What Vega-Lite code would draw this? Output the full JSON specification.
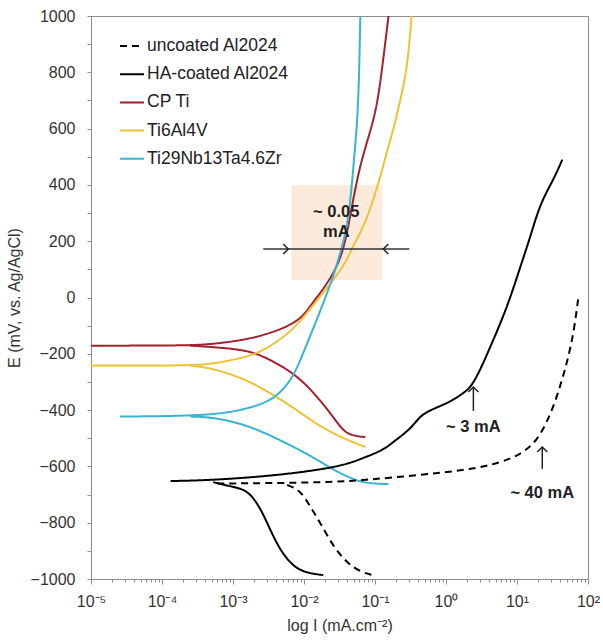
{
  "$schema": "https://vega.github.io/schema/vega-lite/v6.json",
  "width": 497,
  "height": 563,
  "autosize": {"type": "none"},
  "padding": {"left": 91, "top": 16, "right": 15, "bottom": 63},
  "background": "white",
  "config": {
    "view": {"stroke": "#8c8c8c", "strokeWidth": 1},
    "font": "Liberation Sans",
    "axis": {"domainColor": "#8c8c8c", "tickColor": "#8c8c8c", "grid": false, "labelColor": "#333333", "titleColor": "#333333", "labelFont": "Liberation Sans", "titleFont": "Liberation Sans", "labelFontSize": 16, "titleFontSize": 16, "titleFontWeight": "normal"}
  },
  "datasets": {
    "curves": [
      {"s": "CP Ti", "b": "cp_a", "o": 1, "i": 1.0e-5, "E": -171},
      {"s": "CP Ti", "b": "cp_a", "o": 2, "i": 2.5e-4, "E": -171},
      {"s": "CP Ti", "b": "cp_a", "o": 3, "i": 5.26e-4, "E": -165},
      {"s": "CP Ti", "b": "cp_a", "o": 4, "i": 1.6e-3, "E": -150},
      {"s": "CP Ti", "b": "cp_a", "o": 5, "i": 4.6e-3, "E": -116},
      {"s": "CP Ti", "b": "cp_a", "o": 6, "i": 8.4e-3, "E": -81},
      {"s": "CP Ti", "b": "cp_a", "o": 7, "i": 1.08e-2, "E": -50},
      {"s": "CP Ti", "b": "cp_a", "o": 8, "i": 1.39e-2, "E": -12},
      {"s": "CP Ti", "b": "cp_a", "o": 9, "i": 2.16e-2, "E": 51},
      {"s": "CP Ti", "b": "cp_a", "o": 10, "i": 3.26e-2, "E": 133},
      {"s": "CP Ti", "b": "cp_a", "o": 11, "i": 4.06e-2, "E": 229},
      {"s": "CP Ti", "b": "cp_a", "o": 12, "i": 4.9e-2, "E": 346},
      {"s": "CP Ti", "b": "cp_a", "o": 13, "i": 6.1e-2, "E": 464},
      {"s": "CP Ti", "b": "cp_a", "o": 14, "i": 7.85e-2, "E": 559},
      {"s": "CP Ti", "b": "cp_a", "o": 15, "i": 0.105, "E": 666},
      {"s": "CP Ti", "b": "cp_a", "o": 16, "i": 0.127, "E": 819},
      {"s": "CP Ti", "b": "cp_a", "o": 17, "i": 0.155, "E": 1000},
      {"s": "CP Ti", "b": "cp_c", "o": 1, "i": 2.5e-4, "E": -171},
      {"s": "CP Ti", "b": "cp_c", "o": 2, "i": 5.26e-4, "E": -176},
      {"s": "CP Ti", "b": "cp_c", "o": 3, "i": 1.6e-3, "E": -187},
      {"s": "CP Ti", "b": "cp_c", "o": 4, "i": 3.06e-3, "E": -215},
      {"s": "CP Ti", "b": "cp_c", "o": 5, "i": 8.0e-3, "E": -275},
      {"s": "CP Ti", "b": "cp_c", "o": 6, "i": 1.7e-2, "E": -364},
      {"s": "CP Ti", "b": "cp_c", "o": 7, "i": 2.96e-2, "E": -446},
      {"s": "CP Ti", "b": "cp_c", "o": 8, "i": 4.05e-2, "E": -489},
      {"s": "CP Ti", "b": "cp_c", "o": 9, "i": 7.3e-2, "E": -496},
      {"s": "Ti6Al4V", "b": "ti64_a", "o": 1, "i": 1.0e-5, "E": -242},
      {"s": "Ti6Al4V", "b": "ti64_a", "o": 2, "i": 2.5e-4, "E": -242},
      {"s": "Ti6Al4V", "b": "ti64_a", "o": 3, "i": 5.26e-4, "E": -236},
      {"s": "Ti6Al4V", "b": "ti64_a", "o": 4, "i": 1.6e-3, "E": -211},
      {"s": "Ti6Al4V", "b": "ti64_a", "o": 5, "i": 2.68e-3, "E": -187},
      {"s": "Ti6Al4V", "b": "ti64_a", "o": 6, "i": 4.6e-3, "E": -151},
      {"s": "Ti6Al4V", "b": "ti64_a", "o": 7, "i": 8.0e-3, "E": -98},
      {"s": "Ti6Al4V", "b": "ti64_a", "o": 8, "i": 1.11e-2, "E": -53},
      {"s": "Ti6Al4V", "b": "ti64_a", "o": 9, "i": 1.54e-2, "E": -9},
      {"s": "Ti6Al4V", "b": "ti64_a", "o": 10, "i": 2.6e-2, "E": 62},
      {"s": "Ti6Al4V", "b": "ti64_a", "o": 11, "i": 4.05e-2, "E": 133},
      {"s": "Ti6Al4V", "b": "ti64_a", "o": 12, "i": 4.6e-2, "E": 169},
      {"s": "Ti6Al4V", "b": "ti64_a", "o": 13, "i": 6.2e-2, "E": 229},
      {"s": "Ti6Al4V", "b": "ti64_a", "o": 14, "i": 7.8e-2, "E": 286},
      {"s": "Ti6Al4V", "b": "ti64_a", "o": 15, "i": 9.4e-2, "E": 346},
      {"s": "Ti6Al4V", "b": "ti64_a", "o": 16, "i": 0.119, "E": 428},
      {"s": "Ti6Al4V", "b": "ti64_a", "o": 17, "i": 0.149, "E": 524},
      {"s": "Ti6Al4V", "b": "ti64_a", "o": 18, "i": 0.176, "E": 584},
      {"s": "Ti6Al4V", "b": "ti64_a", "o": 19, "i": 0.228, "E": 701},
      {"s": "Ti6Al4V", "b": "ti64_a", "o": 20, "i": 0.287, "E": 819},
      {"s": "Ti6Al4V", "b": "ti64_a", "o": 21, "i": 0.327, "E": 1000},
      {"s": "Ti6Al4V", "b": "ti64_c", "o": 1, "i": 2.5e-4, "E": -242},
      {"s": "Ti6Al4V", "b": "ti64_c", "o": 2, "i": 5.26e-4, "E": -251},
      {"s": "Ti6Al4V", "b": "ti64_c", "o": 3, "i": 1.6e-3, "E": -293},
      {"s": "Ti6Al4V", "b": "ti64_c", "o": 4, "i": 3.7e-3, "E": -346},
      {"s": "Ti6Al4V", "b": "ti64_c", "o": 5, "i": 8.0e-3, "E": -400},
      {"s": "Ti6Al4V", "b": "ti64_c", "o": 6, "i": 1.7e-2, "E": -460},
      {"s": "Ti6Al4V", "b": "ti64_c", "o": 7, "i": 4.05e-2, "E": -506},
      {"s": "Ti6Al4V", "b": "ti64_c", "o": 8, "i": 7.3e-2, "E": -531},
      {"s": "Ti29Nb13Ta4.6Zr", "b": "tnz_a", "o": 1, "i": 2.57e-5, "E": -423},
      {"s": "Ti29Nb13Ta4.6Zr", "b": "tnz_a", "o": 2, "i": 5.26e-4, "E": -420},
      {"s": "Ti29Nb13Ta4.6Zr", "b": "tnz_a", "o": 3, "i": 1.6e-3, "E": -395},
      {"s": "Ti29Nb13Ta4.6Zr", "b": "tnz_a", "o": 4, "i": 3.06e-3, "E": -371},
      {"s": "Ti29Nb13Ta4.6Zr", "b": "tnz_a", "o": 5, "i": 4.6e-3, "E": -340},
      {"s": "Ti29Nb13Ta4.6Zr", "b": "tnz_a", "o": 6, "i": 7.06e-3, "E": -282},
      {"s": "Ti29Nb13Ta4.6Zr", "b": "tnz_a", "o": 7, "i": 9.77e-3, "E": -197},
      {"s": "Ti29Nb13Ta4.6Zr", "b": "tnz_a", "o": 8, "i": 1.35e-2, "E": -110},
      {"s": "Ti29Nb13Ta4.6Zr", "b": "tnz_a", "o": 9, "i": 1.87e-2, "E": -20},
      {"s": "Ti29Nb13Ta4.6Zr", "b": "tnz_a", "o": 10, "i": 2.59e-2, "E": 75},
      {"s": "Ti29Nb13Ta4.6Zr", "b": "tnz_a", "o": 11, "i": 3.35e-2, "E": 170},
      {"s": "Ti29Nb13Ta4.6Zr", "b": "tnz_a", "o": 12, "i": 3.94e-2, "E": 240},
      {"s": "Ti29Nb13Ta4.6Zr", "b": "tnz_a", "o": 13, "i": 4.49e-2, "E": 340},
      {"s": "Ti29Nb13Ta4.6Zr", "b": "tnz_a", "o": 14, "i": 4.94e-2, "E": 460},
      {"s": "Ti29Nb13Ta4.6Zr", "b": "tnz_a", "o": 15, "i": 5.45e-2, "E": 580},
      {"s": "Ti29Nb13Ta4.6Zr", "b": "tnz_a", "o": 16, "i": 5.82e-2, "E": 700},
      {"s": "Ti29Nb13Ta4.6Zr", "b": "tnz_a", "o": 17, "i": 6.05e-2, "E": 850},
      {"s": "Ti29Nb13Ta4.6Zr", "b": "tnz_a", "o": 18, "i": 6.21e-2, "E": 1000},
      {"s": "Ti29Nb13Ta4.6Zr", "b": "tnz_c", "o": 1, "i": 2.5e-4, "E": -423},
      {"s": "Ti29Nb13Ta4.6Zr", "b": "tnz_c", "o": 2, "i": 5.26e-4, "E": -425},
      {"s": "Ti29Nb13Ta4.6Zr", "b": "tnz_c", "o": 3, "i": 1.6e-3, "E": -453},
      {"s": "Ti29Nb13Ta4.6Zr", "b": "tnz_c", "o": 4, "i": 4.6e-3, "E": -506},
      {"s": "Ti29Nb13Ta4.6Zr", "b": "tnz_c", "o": 5, "i": 1.36e-2, "E": -567},
      {"s": "Ti29Nb13Ta4.6Zr", "b": "tnz_c", "o": 6, "i": 2.6e-2, "E": -613},
      {"s": "Ti29Nb13Ta4.6Zr", "b": "tnz_c", "o": 7, "i": 5.6e-2, "E": -653},
      {"s": "Ti29Nb13Ta4.6Zr", "b": "tnz_c", "o": 8, "i": 9.0e-2, "E": -661},
      {"s": "Ti29Nb13Ta4.6Zr", "b": "tnz_c", "o": 9, "i": 0.155, "E": -663},
      {"s": "HA-coated Al2024", "b": "ha_a", "o": 1, "i": 1.32e-4, "E": -652},
      {"s": "HA-coated Al2024", "b": "ha_a", "o": 2, "i": 5.28e-4, "E": -649},
      {"s": "HA-coated Al2024", "b": "ha_a", "o": 3, "i": 4.65e-3, "E": -631},
      {"s": "HA-coated Al2024", "b": "ha_a", "o": 4, "i": 2.35e-2, "E": -606},
      {"s": "HA-coated Al2024", "b": "ha_a", "o": 5, "i": 4.49e-2, "E": -588},
      {"s": "HA-coated Al2024", "b": "ha_a", "o": 6, "i": 6.84e-2, "E": -570},
      {"s": "HA-coated Al2024", "b": "ha_a", "o": 7, "i": 0.131, "E": -542},
      {"s": "HA-coated Al2024", "b": "ha_a", "o": 8, "i": 0.181, "E": -513},
      {"s": "HA-coated Al2024", "b": "ha_a", "o": 9, "i": 0.314, "E": -468},
      {"s": "HA-coated Al2024", "b": "ha_a", "o": 10, "i": 0.435, "E": -420},
      {"s": "HA-coated Al2024", "b": "ha_a", "o": 11, "i": 0.601, "E": -400},
      {"s": "HA-coated Al2024", "b": "ha_a", "o": 12, "i": 1.15, "E": -371},
      {"s": "HA-coated Al2024", "b": "ha_a", "o": 13, "i": 1.75, "E": -340},
      {"s": "HA-coated Al2024", "b": "ha_a", "o": 14, "i": 2.43, "E": -312},
      {"s": "HA-coated Al2024", "b": "ha_a", "o": 15, "i": 4.21, "E": -176},
      {"s": "HA-coated Al2024", "b": "ha_a", "o": 16, "i": 7.3, "E": -34},
      {"s": "HA-coated Al2024", "b": "ha_a", "o": 17, "i": 11.1, "E": 108},
      {"s": "HA-coated Al2024", "b": "ha_a", "o": 18, "i": 15.4, "E": 215},
      {"s": "HA-coated Al2024", "b": "ha_a", "o": 19, "i": 21.3, "E": 336},
      {"s": "HA-coated Al2024", "b": "ha_a", "o": 20, "i": 32.5, "E": 417},
      {"s": "HA-coated Al2024", "b": "ha_a", "o": 21, "i": 43.5, "E": 490},
      {"s": "HA-coated Al2024", "b": "ha_c", "o": 1, "i": 5.26e-4, "E": -656},
      {"s": "HA-coated Al2024", "b": "ha_c", "o": 2, "i": 1.0e-3, "E": -673},
      {"s": "HA-coated Al2024", "b": "ha_c", "o": 3, "i": 1.6e-3, "E": -684},
      {"s": "HA-coated Al2024", "b": "ha_c", "o": 4, "i": 2.4e-3, "E": -744},
      {"s": "HA-coated Al2024", "b": "ha_c", "o": 5, "i": 3.35e-3, "E": -826},
      {"s": "HA-coated Al2024", "b": "ha_c", "o": 6, "i": 4.6e-3, "E": -897},
      {"s": "HA-coated Al2024", "b": "ha_c", "o": 7, "i": 7.06e-3, "E": -957},
      {"s": "HA-coated Al2024", "b": "ha_c", "o": 8, "i": 1.11e-2, "E": -979},
      {"s": "HA-coated Al2024", "b": "ha_c", "o": 9, "i": 1.87e-2, "E": -986},
      {"s": "uncoated Al2024", "b": "un_a", "o": 1, "i": 6.0e-4, "E": -661},
      {"s": "uncoated Al2024", "b": "un_a", "o": 2, "i": 4.6e-3, "E": -659},
      {"s": "uncoated Al2024", "b": "un_a", "o": 3, "i": 2.36e-2, "E": -656},
      {"s": "uncoated Al2024", "b": "un_a", "o": 4, "i": 7.8e-2, "E": -648},
      {"s": "uncoated Al2024", "b": "un_a", "o": 5, "i": 0.393, "E": -631},
      {"s": "uncoated Al2024", "b": "un_a", "o": 6, "i": 2.0, "E": -613},
      {"s": "uncoated Al2024", "b": "un_a", "o": 7, "i": 5.8, "E": -588},
      {"s": "uncoated Al2024", "b": "un_a", "o": 8, "i": 12.2, "E": -553},
      {"s": "uncoated Al2024", "b": "un_a", "o": 9, "i": 19.3, "E": -506},
      {"s": "uncoated Al2024", "b": "un_a", "o": 10, "i": 26.7, "E": -440},
      {"s": "uncoated Al2024", "b": "un_a", "o": 11, "i": 34.6, "E": -370},
      {"s": "uncoated Al2024", "b": "un_a", "o": 12, "i": 42.1, "E": -300},
      {"s": "uncoated Al2024", "b": "un_a", "o": 13, "i": 49.5, "E": -240},
      {"s": "uncoated Al2024", "b": "un_a", "o": 14, "i": 56.3, "E": -180},
      {"s": "uncoated Al2024", "b": "un_a", "o": 15, "i": 64.1, "E": -110},
      {"s": "uncoated Al2024", "b": "un_a", "o": 16, "i": 73.0, "E": -2},
      {"s": "uncoated Al2024", "b": "un_c", "o": 1, "i": 5.8e-3, "E": -666},
      {"s": "uncoated Al2024", "b": "un_c", "o": 2, "i": 8.87e-3, "E": -684},
      {"s": "uncoated Al2024", "b": "un_c", "o": 3, "i": 1.23e-2, "E": -744},
      {"s": "uncoated Al2024", "b": "un_c", "o": 4, "i": 1.7e-2, "E": -801},
      {"s": "uncoated Al2024", "b": "un_c", "o": 5, "i": 2.6e-2, "E": -886},
      {"s": "uncoated Al2024", "b": "un_c", "o": 6, "i": 4.05e-2, "E": -943},
      {"s": "uncoated Al2024", "b": "un_c", "o": 7, "i": 6.2e-2, "E": -975},
      {"s": "uncoated Al2024", "b": "un_c", "o": 8, "i": 9.2e-2, "E": -986}
    ],
    "box": [{"i": 6.62e-3, "i2": 0.127, "E": 62, "E2": 400}],
    "hline": [{"i": 2.67e-3, "i2": 0.304, "E": 172}],
    "vlines": [{"i": 2.43, "E": -403, "E2": -318}, {"i": 22.7, "E": -609, "E2": -531}],
    "heads": [
      {"i": 6.0e-3, "E": 172, "d": "right"},
      {"i": 0.131, "E": 172, "d": "left"},
      {"i": 2.43, "E": -318, "d": "up"},
      {"i": 22.7, "E": -531, "d": "up"}
    ],
    "notes": [
      {"i": 2.85e-2, "E": 304, "t": "~ 0.05"},
      {"i": 2.85e-2, "E": 231, "t": "mA"},
      {"i": 2.43, "E": -460, "t": "~ 3 mA"},
      {"i": 22.7, "E": -694, "t": "~ 40 mA"}
    ]
  },
  "encoding": {
    "x": {
      "field": "i", "type": "quantitative",
      "scale": {"type": "log", "domain": [1e-5, 100], "nice": false},
      "axis": {
        "title": "log I (mA.cm⁻²)",
        "titlePadding": 8,
        "values": [1e-5,2e-5,3e-5,4e-5,5e-5,6e-5,7e-5,8e-5,9e-5,1e-4,2e-4,3e-4,4e-4,5e-4,6e-4,7e-4,8e-4,9e-4,1e-3,2e-3,3e-3,4e-3,5e-3,6e-3,7e-3,8e-3,9e-3,1e-2,2e-2,3e-2,4e-2,5e-2,6e-2,7e-2,8e-2,9e-2,0.1,0.2,0.3,0.4,0.5,0.6,0.7,0.8,0.9,1,2,3,4,5,6,7,8,9,10,20,30,40,50,60,70,80,90,100],
        "labelExpr": "abs(log(datum.value)/LN10 - round(log(datum.value)/LN10)) < 0.001 ? ['10⁻⁵','10⁻⁴','10⁻³','10⁻²','10⁻¹','10⁰','10¹','10²'][round(log(datum.value)/LN10)+5] : ''",
        "labelOverlap": false,
        "labelFlush": false,
        "labelPadding": 9,
        "tickSize": {"condition": {"test": "abs(log(datum.value)/LN10 - round(log(datum.value)/LN10)) < 0.001", "value": 5}, "value": 3}
      }
    },
    "y": {
      "field": "E", "type": "quantitative",
      "scale": {"domain": [-1000, 1000], "nice": false},
      "axis": {
        "title": "E (mV, vs. Ag/AgCl)",
        "titlePadding": 8,
        "format": "d",
        "values": [-1000,-900,-800,-700,-600,-500,-400,-300,-200,-100,0,100,200,300,400,500,600,700,800,900,1000],
        "labelExpr": "datum.value % 200 == 0 ? datum.label : ''",
        "labelOverlap": false,
        "labelFlush": false,
        "tickSize": 4,
        "labelPadding": 12
      }
    }
  },
  "layer": [
    {
      "data": {"name": "box"},
      "mark": {"type": "rect", "color": "#FCEADC"},
      "encoding": {"x2": {"field": "i2"}, "y2": {"field": "E2"}}
    },
    {
      "data": {"name": "curves"},
      "mark": {"type": "line", "strokeWidth": 2, "clip": true, "interpolate": "basis"},
      "encoding": {
        "color": {
          "field": "s", "type": "nominal",
          "scale": {"domain": ["uncoated Al2024", "HA-coated Al2024", "CP Ti", "Ti6Al4V", "Ti29Nb13Ta4.6Zr"], "range": ["#000000", "#000000", "#A3202C", "#EDC235", "#36B4D1"]},
          "legend": {"orient": "none", "legendX": 28, "legendY": 17, "title": null, "symbolType": "stroke", "symbolSize": 576, "symbolStrokeWidth": 2, "labelFontSize": 17.5, "labelColor": "#222222", "labelFont": "Liberation Sans", "rowPadding": 6.2, "labelOffset": 2, "padding": 0}
        },
        "strokeDash": {
          "field": "s", "type": "nominal",
          "scale": {"domain": ["uncoated Al2024", "HA-coated Al2024", "CP Ti", "Ti6Al4V", "Ti29Nb13Ta4.6Zr"], "range": [[7, 5], [1, 0], [1, 0], [1, 0], [1, 0]]},
          "legend": {"orient": "none", "legendX": 28, "legendY": 17, "title": null, "symbolType": "stroke", "symbolSize": 576, "symbolStrokeWidth": 2, "labelFontSize": 17.5, "labelColor": "#222222", "labelFont": "Liberation Sans", "rowPadding": 6.2, "labelOffset": 2, "padding": 0}
        },
        "detail": {"field": "b", "type": "nominal"},
        "order": {"field": "o", "type": "quantitative"}
      }
    },
    {
      "data": {"name": "hline"},
      "mark": {"type": "rule", "color": "#333333", "strokeWidth": 1.5},
      "encoding": {"x2": {"field": "i2"}}
    },
    {
      "data": {"name": "vlines"},
      "mark": {"type": "rule", "color": "#222222", "strokeWidth": 1.5},
      "encoding": {"y2": {"field": "E2"}}
    },
    {
      "data": {"name": "heads"},
      "transform": [{"filter": "datum.d == 'right'"}],
      "mark": {"type": "point", "shape": "M -1 -1 L 0 0 L -1 1", "filled": false, "stroke": "#222222", "strokeWidth": 1.5, "size": 100, "opacity": 1}
    },
    {
      "data": {"name": "heads"},
      "transform": [{"filter": "datum.d == 'left'"}],
      "mark": {"type": "point", "shape": "M 1 -1 L 0 0 L 1 1", "filled": false, "stroke": "#222222", "strokeWidth": 1.5, "size": 100, "opacity": 1}
    },
    {
      "data": {"name": "heads"},
      "transform": [{"filter": "datum.d == 'up'"}],
      "mark": {"type": "point", "shape": "M -1 1 L 0 0 L 1 1", "filled": false, "stroke": "#222222", "strokeWidth": 1.5, "size": 100, "opacity": 1}
    },
    {
      "data": {"name": "notes"},
      "mark": {"type": "text", "fontSize": 16.5, "fontWeight": "bold", "color": "#222222", "font": "Liberation Sans", "baseline": "middle", "align": "center"},
      "encoding": {"text": {"field": "t"}}
    }
  ]
}
